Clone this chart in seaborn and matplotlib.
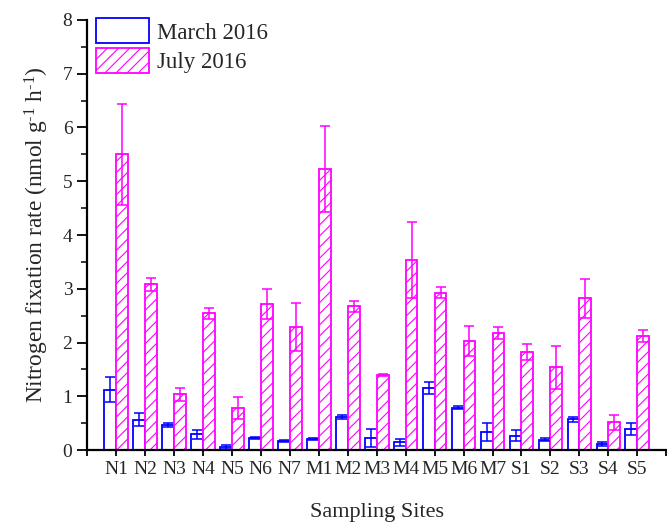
import numpy as np
import pandas as pd
import matplotlib
matplotlib.use("Agg")
import matplotlib.pyplot as plt
import seaborn as sns
from matplotlib.patches import Patch
from matplotlib.ticker import MultipleLocator

sites = ["N1", "N2", "N3", "N4", "N5", "N6", "N7", "M1", "M2", "M3",
         "M4", "M5", "M6", "M7", "S1", "S2", "S3", "S4", "S5"]
march_mean = [1.12, 0.56, 0.47, 0.29, 0.06, 0.23, 0.17, 0.21, 0.62, 0.23,
              0.14, 1.15, 0.79, 0.34, 0.27, 0.19, 0.57, 0.11, 0.39]
march_err = [0.23, 0.12, 0.04, 0.08, 0.04, 0.02, 0.02, 0.02, 0.04, 0.17,
             0.07, 0.11, 0.03, 0.17, 0.10, 0.03, 0.04, 0.03, 0.11]
july_mean = [5.50, 3.08, 1.04, 2.54, 0.78, 2.71, 2.29, 5.22, 2.67, 1.40,
             3.53, 2.93, 2.02, 2.17, 1.83, 1.54, 2.82, 0.52, 2.12]
july_err = [0.94, 0.12, 0.12, 0.10, 0.20, 0.28, 0.44, 0.80, 0.11, 0.02,
            0.71, 0.11, 0.28, 0.11, 0.15, 0.40, 0.37, 0.14, 0.11]
seasons = ["March 2016", "July 2016"]

BLUE = "#0000FF"
MAG = "#FF00FF"

sns.set_theme(style="ticks")
plt.rcParams["font.family"] = ["Liberation Serif", "DejaVu Serif"]
plt.rcParams["mathtext.fontset"] = "custom"
plt.rcParams["mathtext.rm"] = "Liberation Serif"
plt.rcParams["mathtext.default"] = "regular"
plt.rcParams["hatch.linewidth"] = 0.8

df = pd.DataFrame({
    "site": sites * 2,
    "season": [seasons[0]] * len(sites) + [seasons[1]] * len(sites),
    "rate": march_mean + july_mean,
})

fig = plt.figure(figsize=(6.67, 5.22), dpi=100)
ax = fig.add_axes([0.1304, 0.1379, 0.8686, 0.8238])

sns.barplot(data=df, x="site", y="rate", hue="season", order=sites,
            hue_order=seasons, palette=[BLUE, MAG], width=0.82, gap=0,
            errorbar=None, fill=False, linewidth=1.3, legend=False, ax=ax)

n = len(sites)
bars = ax.patches
march_bars = bars[:n]
july_bars = bars[n:2 * n]
for p in march_bars:
    p.set_edgecolor(BLUE)
    p.set_facecolor("white")
for p in july_bars:
    p.set_edgecolor(MAG)
    p.set_facecolor("white")
    p.set_hatch("///")
    if hasattr(p, "set_hatchcolor"):
        p.set_hatchcolor(MAG)

mx = [p.get_x() + p.get_width() / 2 for p in march_bars]
jx = [p.get_x() + p.get_width() / 2 for p in july_bars]
ax.errorbar(mx, march_mean, yerr=march_err, fmt="none", ecolor=BLUE,
            elinewidth=1.1, capsize=3.3, capthick=1.1, zorder=5)
ax.errorbar(jx, july_mean, yerr=july_err, fmt="none", ecolor=MAG,
            elinewidth=1.1, capsize=3.3, capthick=1.1, zorder=5)

ax.set_xlim(-1, n)
ax.set_ylim(0, 8)
ax.set_xticks(range(-1, n + 1))
ax.set_xticklabels([""] + sites + [""], fontsize=14)
ax.yaxis.set_major_locator(MultipleLocator(1))
ax.yaxis.set_minor_locator(MultipleLocator(0.5))
ax.tick_params(axis="y", which="major", length=7, width=1.3, labelsize=14,
               direction="out", color="black")
ax.tick_params(axis="y", which="minor", length=4, width=1.1, color="black")
ax.tick_params(axis="x", which="major", length=4, width=1.3, color="black",
               pad=4)
for s in ["top", "right"]:
    ax.spines[s].set_visible(False)
for s in ["left", "bottom"]:
    ax.spines[s].set_linewidth(1.6)
    ax.spines[s].set_color("black")

ax.set_xlabel("Sampling Sites", fontsize=16, labelpad=18)
ax.set_ylabel(r"Nitrogen fixation rate (nmol g$^{\text{-}1}$ h$^{\text{-}1}$)",
              fontsize=16.8, labelpad=8)

handles = [Patch(facecolor="white", edgecolor=BLUE, linewidth=1.3),
           Patch(facecolor="white", edgecolor=MAG, hatch="///", linewidth=1.3)]
if hasattr(handles[1], "set_hatchcolor"):
    handles[1].set_hatchcolor(MAG)
ax.legend(handles, seasons, loc="upper left", bbox_to_anchor=(0.0, 1.025),
          frameon=False, fontsize=16.5, handlelength=2.3, handleheight=1.3,
          handletextpad=0.35, labelspacing=0.2, borderaxespad=0,
          borderpad=0.4)

fig.savefig("out.png", dpi=100)
